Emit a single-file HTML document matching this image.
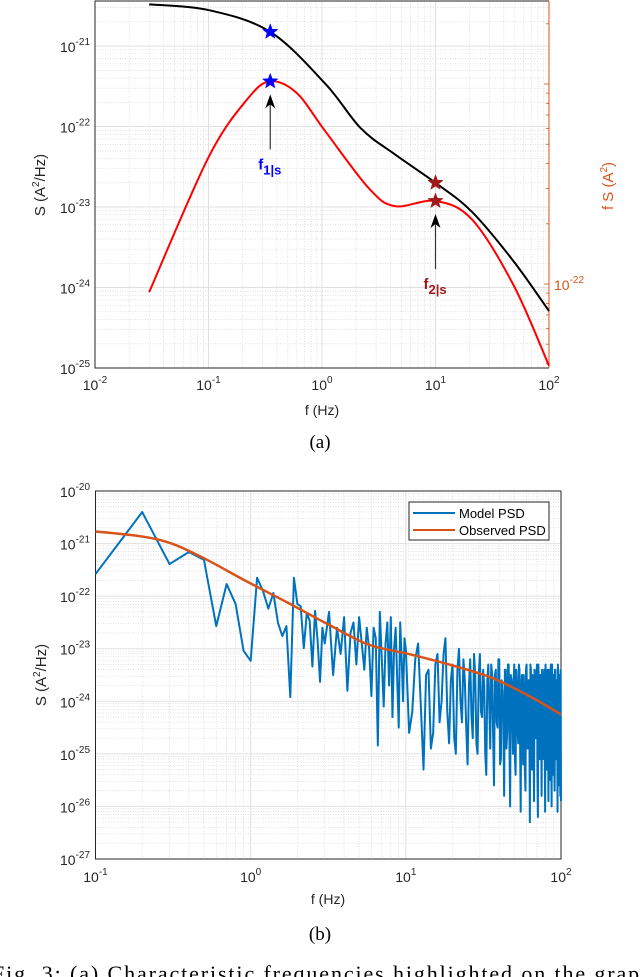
<!DOCTYPE html>
<html><head><meta charset="utf-8"><style>
html,body{margin:0;padding:0;background:#fff;width:640px;height:977px;overflow:hidden}
svg{position:absolute;left:0;top:0}
text{font-family:"Liberation Sans",sans-serif}
.cap{font-family:"Liberation Serif",serif;font-size:19px}
</style></head><body>
<svg id="fig" width="640" height="977" viewBox="0 0 640 977">
  <g id="chartA"></g>
  <g id="chartB"></g>
  <text class="cap" x="320" y="448" text-anchor="middle">(a)</text>
  <text class="cap" x="320" y="940" text-anchor="middle">(b)</text>
  <text class="cap" x="-8" y="981" style="font-size:22px" textLength="660" lengthAdjust="spacing">Fig. 3: (a) Characteristic frequencies highlighted on the graph</text>
</svg>
<script>
// ---------- Chart A data ----------
const aBlackF = [0.03, 0.1, 0.35, 1.07, 2.2, 4.4, 10, 21, 49, 100];
const aBlackS = [3.3e-21, 2.8e-21, 1.5e-21, 3.4e-22, 9.5e-23, 4.5e-23, 2.0e-23, 8.7e-24, 2.1e-24, 5.1e-25];
const aRedF = [0.03, 0.1, 0.22, 0.35, 0.6, 1.07, 2.6, 4.4, 10, 21, 49, 100];
const aRedFS = [9.1e-23, 4.3e-22, 8.4e-22, 1.03e-21, 9.0e-22, 5.8e-22, 3.0e-22, 2.45e-22, 2.6e-22, 2.1e-22, 9.8e-23, 3.9e-23];
const aStarsF = [0.35, 10];
const aXTicks = [-2, -1, 0, 1, 2];
const aYTicks = [-25, -24, -23, -22, -21];
const aRightTicks = [-22];
// ---------- Chart B data ----------
const bObsF = [0.1, 0.2, 0.31, 0.51, 0.93, 1.72, 3.16, 5.75, 10.7, 19.5, 36.3, 66, 100];
const bObsS = [1.7e-21, 1.36e-21, 1.0e-21, 5.1e-22, 1.95e-22, 7.6e-23, 2.9e-23, 1.2e-23, 7.8e-24, 4.9e-24, 2.75e-24, 1.15e-24, 5.6e-25];
const bLowLog = [-21.58,-20.40,-21.39,-21.16,-21.31,-22.57,-21.77,-22.15,-23.04,-23.23,-21.65,-21.90,-22.24,-21.94,-22.51,-22.76,-22.57,-23.92,-21.65,-22.15,-22.19,-22.99,-22.32,-22.47,-23.34,-22.28,-22.85,-23.63,-22.6];
const bMidLog = [-22.9,-22.3,-23.5,-22.6,-23.1,-22.4,-23.8,-22.7,-22.5,-23.3,-22.4,-22.9,-23.4,-22.6,-23.0,-23.9,-22.6,-22.8,-24.84,-22.3,-23.2,-24.1,-22.9,-22.5,-23.7,-22.4,-24.3,-23.0,-22.6,-23.6,-24.5,-22.5,-23.2,-24.0,-22.8];
const bHighLog = [-23.0,-24.2,-22.9,-25.3,-23.4,-24.6,-23.1,-24.0,-22.8,-24.8,-23.3,-25.0,-23.0,-24.4,-23.6,-25.2,-23.2,-24.7,-23.5,-25.0,-23.1,-24.3,-23.7,-25.4,-23.3,-24.9,-23.5,-25.6,-23.4,-24.5,-23.2,-25.1,-23.8,-25.8,-23.4,-24.6,-23.3,-26.0,-23.6,-25.0,-23.3,-25.4,-23.7,-24.8,-23.4,-26.1,-23.5,-25.2,-23.9,-25.7,-23.3,-24.9,-23.6,-26.3,-23.4,-25.3,-23.8,-25.9,-23.5,-24.7,-23.3,-26.2,-23.7,-25.1,-23.5,-25.8,-23.9,-24.9,-23.4,-26.1,-23.6,-25.3,-23.4,-25.9,-23.8,-24.8,-23.3,-26.0,-23.7,-25.4,-23.5,-25.7,-23.4,-25.1,-23.9,-26.1,-23.6,-25.0,-23.5,-25.8,-25.9];
const bHalfLog = [-24.6,-23.2,-24.1,-23.5,-24.9,-23.3,-24.4,-23.1,-24.2,-23.6,-24.7,-23.4,-24.0,-23.2,-24.5,-23.7,-24.3,-23.1,-24.8,-23.5,-24.2,-23.4,-25.0,-23.6,-24.1,-23.3,-24.6,-23.5,-24.4,-23.2,-25.2,-23.6,-24.3,-23.4,-24.9,-23.3,-24.7,-23.5,-24.2,-23.6,-25.1,-23.4,-24.5,-23.3,-24.8,-23.7,-24.4,-23.5,-25.3,-23.4,-24.6,-23.6,-24.2,-23.3,-25.0,-23.5,-24.7,-23.4,-24.4,-23.6,-25.4,-23.3,-24.8,-23.5,-24.3,-23.4,-25.1,-23.6,-24.6,-23.3,-24.9,-23.5,-24.2,-23.4,-25.5,-23.6,-24.7,-23.3,-24.5,-23.5,-25.2,-23.4,-24.8,-23.6,-24.4,-23.3,-25.6,-23.5,-24.9,-23.4];
const bXTicks = [-1, 0, 1, 2];
const bYTicks = [-27, -26, -25, -24, -23, -22, -21, -20];
const legendLabels = ["Model PSD", "Observed PSD"];

const NS = "http://www.w3.org/2000/svg";
function mk(parent, tag, attrs){const e=document.createElementNS(NS,tag);for(const k in attrs)e.setAttribute(k,attrs[k]);parent.appendChild(e);return e;}
function logScale(d0,d1,r0,r1){return v=>r0+(Math.log10(v)-d0)/(d1-d0)*(r1-r0);}
function smoothPath(pts){
  let d="M"+pts[0][0].toFixed(2)+","+pts[0][1].toFixed(2);
  for(let i=0;i<pts.length-1;i++){
    const p0=pts[Math.max(i-1,0)],p1=pts[i],p2=pts[i+1],p3=pts[Math.min(i+2,pts.length-1)];
    const c1=[p1[0]+(p2[0]-p0[0])/6,p1[1]+(p2[1]-p0[1])/6],c2=[p2[0]-(p3[0]-p1[0])/6,p2[1]-(p3[1]-p1[1])/6];
    d+=" C"+c1.map(n=>n.toFixed(2))+" "+c2.map(n=>n.toFixed(2))+" "+p2[0].toFixed(2)+","+p2[1].toFixed(2);
  }
  return d;
}
function powLabel(g,x,y,exp,anchor,color){
  const t=mk(g,"text",{x:x,y:y,"font-size":"14","text-anchor":anchor,fill:color||"#262626"});
  
  
  t.appendChild(document.createTextNode("10"));
  const s=mk(t,"tspan",{dy:"-7","font-size":"10"});s.textContent=String(exp);
  return t;
}
function grid(g,L,R,T,B,xd0,xd1,yd0,yd1,xs,ys){
  for(let e=Math.floor(xd0);e<xd1;e++)for(let m=2;m<=9;m++){const v=m*Math.pow(10,e);if(Math.log10(v)>xd1)break;const x=xs(v);
    const l=mk(g,"line",{x1:x,x2:x,y1:T,y2:B,stroke:"#d0d0d0","stroke-width":"0.6","stroke-dasharray":"1,1.5"});
    }
  for(let e=Math.floor(yd0);e<yd1;e++)for(let m=2;m<=9;m++){const v=m*Math.pow(10,e);if(Math.log10(v)>yd1||Math.log10(v)<yd0)continue;const y=ys(v);
    const l=mk(g,"line",{x1:L,x2:R,y1:y,y2:y,stroke:"#d0d0d0","stroke-width":"0.6","stroke-dasharray":"1,1.5"});
    }
  for(let e=Math.ceil(xd0);e<=xd1;e++){const x=xs(Math.pow(10,e));
    const l=mk(g,"line",{x1:x,x2:x,y1:T,y2:B,stroke:"#e0e0e0","stroke-width":"1"});
    }
  for(let e=Math.ceil(yd0);e<=yd1;e++){const y=ys(Math.pow(10,e));
    const l=mk(g,"line",{x1:L,x2:R,y1:y,y2:y,stroke:"#e0e0e0","stroke-width":"1"});
    }
}
function star(g,cx,cy,r,color){
  let p=[];for(let i=0;i<10;i++){const a=-Math.PI/2+i*Math.PI/5,rr=i%2?r*0.42:r;p.push((cx+rr*Math.cos(a)).toFixed(2)+","+(cy+rr*Math.sin(a)).toFixed(2));}
  return mk(g,"polygon",{points:p.join(" "),fill:color,stroke:color,"stroke-width":"0.5"});
}

// ---------- Chart A ----------
(function(){
  const g=document.getElementById("chartA");
  const L=95,R=549,T=1,B=368;
  const xs=logScale(-2,2,L,R);
  const ys=logScale(-25,-20.44,B,T);
  const yr=logScale(-22.42,-20.585,B,T);
  grid(g,L,R,T,B,-2,2,-25,-20.44,xs,ys);
  for(const e of [-23,-22,-21])for(let m=1;m<=9;m++){const v=m*Math.pow(10,e);const lv=Math.log10(v);if(lv<-22.42||lv>-20.585)continue;const y=yr(v);
    const t=mk(g,"line",{x1:R,x2:R-(m===1?5:3),y1:y,y2:y,stroke:"#d95319","stroke-width":"0.8"});
    }
  const frame=mk(g,"path",{d:`M${R},${T} L${L},${T} L${L},${B} L${R},${B}`,fill:"none",stroke:"#262626","stroke-width":"1"});
  
  const ra=mk(g,"line",{x1:R,x2:R,y1:T,y2:B,stroke:"#d95319","stroke-width":"1"});
  
  aXTicks.forEach(e=>powLabel(g,xs(Math.pow(10,e)),390,e,"middle"));
  aYTicks.forEach(e=>powLabel(g,90,ys(Math.pow(10,e))+6,e,"end"));
  aRightTicks.forEach(e=>powLabel(g,554,yr(Math.pow(10,e))+6,e,"start","#d95319"));
  const xl=mk(g,"text",{x:322,y:415,"font-size":"14","text-anchor":"middle",fill:"#262626"});xl.textContent="f (Hz)";
  
  const yl=mk(g,"text",{x:0,y:0,"font-size":"15","text-anchor":"middle",fill:"#262626",transform:"translate(45,185) rotate(-90)"});
  yl.innerHTML='S (A<tspan dy="-6" font-size="10">2</tspan><tspan dy="6">/Hz)</tspan>';
  
  const yl2=mk(g,"text",{x:0,y:0,"font-size":"15","text-anchor":"middle",fill:"#d95319",transform:"translate(613,186) rotate(-90)"});
  yl2.innerHTML='f S (A<tspan dy="-6" font-size="10">2</tspan><tspan dy="6">)</tspan>';
  
  const bp=mk(g,"path",{d:smoothPath(aBlackF.map((f,i)=>[xs(f),ys(aBlackS[i])])),fill:"none",stroke:"#000","stroke-width":"2"});
  
  const rp=mk(g,"path",{d:smoothPath(aRedF.map((f,i)=>[xs(f),yr(aRedFS[i])])),fill:"none",stroke:"#ff0000","stroke-width":"2"});
  
  const starColors=["#0000ff","#a01a1a"];
  const interp=(F,V,f)=>{for(let i=0;i<F.length-1;i++)if(f>=F[i]&&f<=F[i+1]){const t=(Math.log10(f)-Math.log10(F[i]))/(Math.log10(F[i+1])-Math.log10(F[i]));return Math.pow(10,Math.log10(V[i])+t*(Math.log10(V[i+1])-Math.log10(V[i])));}return V[V.length-1];};
  aStarsF.forEach((f,i)=>{
    const s1=star(g,xs(f),ys(interp(aBlackF,aBlackS,f)),8,starColors[i]);
    
    const s2=star(g,xs(f),yr(interp(aRedF,aRedFS,f)),8,starColors[i]);
    
    const ay=yr(interp(aRedF,aRedFS,f))+13;
    const x=xs(f);
    const ln=mk(g,"line",{x1:x,x2:x,y1:ay+55,y2:ay+8,stroke:"#333","stroke-width":"1.2"});
    
    const hd=mk(g,"polygon",{points:`${x},${ay} ${x-5},${ay+14} ${x},${ay+10} ${x+5},${ay+14}`,fill:"#000"});
    
    const lb=mk(g,"text",{x:x-12,y:ay+75,"font-size":"15","font-weight":"bold",fill:starColors[i]});
    lb.innerHTML='f<tspan dy="5" font-size="13">'+(i+1)+'|s</tspan>';
    
  });
})();

// ---------- Chart B ----------
(function(){
  const g=document.getElementById("chartB");
  const L=95.5,R=561,T=491,B=859;
  const xs=logScale(-1,2,L,R);
  const ys=logScale(-27,-20,B,T);
  grid(g,L,R,T,B,-1,2,-27,-20,xs,ys);
  const frame=mk(g,"rect",{x:L,y:T,width:R-L,height:B-T,fill:"none",stroke:"#262626","stroke-width":"1"});
  
  bXTicks.forEach(e=>powLabel(g,xs(Math.pow(10,e)),882,e,"middle"));
  bYTicks.forEach(e=>powLabel(g,90,ys(Math.pow(10,e))+6,e,"end"));
  const xl=mk(g,"text",{x:328,y:904,"font-size":"14","text-anchor":"middle",fill:"#262626"});xl.textContent="f (Hz)";
  
  const yl=mk(g,"text",{x:0,y:0,"font-size":"15","text-anchor":"middle",fill:"#262626",transform:"translate(46,675) rotate(-90)"});
  yl.innerHTML='S (A<tspan dy="-6" font-size="10">2</tspan><tspan dy="6">/Hz)</tspan>';
  
  const pts=[];
  bLowLog.forEach((v,i)=>pts.push([xs(0.1*(i+1)),ys(Math.pow(10,v))]));
  bMidLog.forEach((v,i)=>pts.push([xs(3+0.2*i),ys(Math.pow(10,v))]));
  bHighLog.forEach((v,i)=>{
    pts.push([xs(10+i),ys(Math.pow(10,v))]);
    if(i<bHalfLog.length)pts.push([xs(10.5+i),ys(Math.pow(10,bHalfLog[i]))]);
  });
  const mp=mk(g,"polyline",{points:pts.map(p=>p[0].toFixed(2)+","+p[1].toFixed(2)).join(" "),fill:"none",stroke:"#0072bd","stroke-width":"2","stroke-linejoin":"round"});
  
  const op=mk(g,"path",{d:smoothPath(bObsF.map((f,i)=>[xs(f),ys(bObsS[i])])),fill:"none",stroke:"#d95319","stroke-width":"2.5"});
  
  const lg=mk(g,"g",{});
  
  const lr=mk(lg,"rect",{x:409,y:502,width:140,height:38,fill:"#fff",stroke:"#262626","stroke-width":"1"});
  
  const cols=["#0072bd","#d95319"];
  legendLabels.forEach((t,i)=>{
    const y=513+i*17;
    const ll=mk(lg,"line",{x1:413,x2:455,y1:y,y2:y,stroke:cols[i],"stroke-width":"2"});
    
    const lt=mk(lg,"text",{x:459,y:y+5,"font-size":"13",fill:"#000"});lt.textContent=t;
    
  });
})();
</script>
</body></html>
